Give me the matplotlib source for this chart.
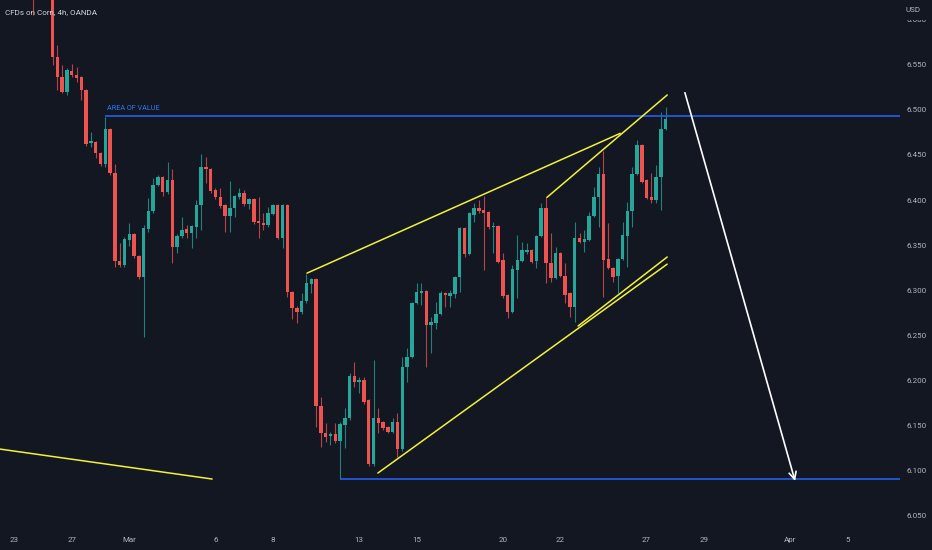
import numpy as np
import matplotlib
matplotlib.use('Agg')
import matplotlib.pyplot as plt

# 4h candles of CFDs on Corn (OANDA), index -4 .. 128, 6 candles per trading day
opens = [
    6.665, 6.640, 6.655, 6.650, 6.648, 6.559, 6.536, 6.520, 6.543, 6.539,
    6.536, 6.522, 6.463, 6.464, 6.452, 6.440, 6.479, 6.430, 6.333, 6.328,
    6.356, 6.362, 6.338, 6.315, 6.368, 6.388, 6.417, 6.426, 6.409, 6.422,
    6.348, 6.360, 6.368, 6.364, 6.370, 6.395, 6.437, 6.435, 6.411, 6.403,
    6.395, 6.382, 6.391, 6.403, 6.408, 6.396, 6.401, 6.377, 6.375, 6.372,
    6.385, 6.395, 6.358, 6.395, 6.298, 6.280, 6.276, 6.288, 6.307, 6.313,
    6.172, 6.142, 6.138, 6.141, 6.133, 6.151, 6.158, 6.205, 6.198, 6.201,
    6.178, 6.107, 6.158, 6.154, 6.148, 6.143, 6.154, 6.124, 6.215, 6.226,
    6.286, 6.297, 6.299, 6.262, 6.264, 6.274, 6.297, 6.294, 6.296, 6.315,
    6.369, 6.340, 6.384, 6.391, 6.389, 6.387, 6.370, 6.371, 6.334, 6.295,
    6.276, 6.323, 6.333, 6.343, 6.345, 6.333, 6.360, 6.391, 6.330, 6.314,
    6.341, 6.316, 6.297, 6.282, 6.358, 6.354, 6.356, 6.382, 6.403, 6.429,
    6.335, 6.325, 6.316, 6.335, 6.360, 6.388, 6.429, 6.461, 6.422, 6.403,
    6.400, 6.426, 6.479,
]
highs = [
    6.672, 6.662, 6.668, 6.660, 6.652, 6.572, 6.550, 6.546, 6.551, 6.548,
    6.538, 6.523, 6.476, 6.466, 6.453, 6.492, 6.480, 6.440, 6.352, 6.359,
    6.375, 6.364, 6.339, 6.372, 6.402, 6.425, 6.428, 6.427, 6.442, 6.435,
    6.362, 6.381, 6.372, 6.372, 6.400, 6.451, 6.448, 6.436, 6.413, 6.413,
    6.396, 6.421, 6.406, 6.413, 6.411, 6.402, 6.402, 6.403, 6.386, 6.392,
    6.396, 6.396, 6.396, 6.396, 6.299, 6.283, 6.297, 6.318, 6.314, 6.314,
    6.182, 6.153, 6.143, 6.153, 6.154, 6.170, 6.208, 6.221, 6.204, 6.204,
    6.180, 6.223, 6.170, 6.155, 6.150, 6.158, 6.164, 6.226, 6.236, 6.287,
    6.308, 6.308, 6.300, 6.270, 6.287, 6.299, 6.298, 6.300, 6.316, 6.370,
    6.370, 6.387, 6.397, 6.400, 6.405, 6.388, 6.376, 6.372, 6.341, 6.296,
    6.328, 6.361, 6.354, 6.352, 6.346, 6.361, 6.397, 6.403, 6.364, 6.348,
    6.343, 6.330, 6.298, 6.376, 6.364, 6.367, 6.387, 6.415, 6.437, 6.454,
    6.375, 6.326, 6.336, 6.376, 6.398, 6.437, 6.467, 6.462, 6.423, 6.430,
    6.439, 6.498, 6.503,
]
lows = [
    6.605, 6.630, 6.636, 6.632, 6.550, 6.522, 6.519, 6.517, 6.536, 6.531,
    6.511, 6.460, 6.459, 6.447, 6.438, 6.437, 6.428, 6.326, 6.326, 6.326,
    6.349, 6.336, 6.313, 6.248, 6.365, 6.386, 6.416, 6.405, 6.407, 6.330,
    6.341, 6.358, 6.358, 6.347, 6.358, 6.367, 6.419, 6.408, 6.401, 6.391,
    6.365, 6.365, 6.381, 6.401, 6.393, 6.390, 6.374, 6.358, 6.367, 6.370,
    6.384, 6.357, 6.347, 6.293, 6.268, 6.264, 6.274, 6.286, 6.297, 6.148,
    6.126, 6.132, 6.128, 6.131, 6.091, 6.125, 6.156, 6.193, 6.186, 6.174,
    6.105, 6.105, 6.142, 6.145, 6.142, 6.142, 6.115, 6.122, 6.198, 6.225,
    6.285, 6.284, 6.215, 6.231, 6.257, 6.273, 6.282, 6.282, 6.292, 6.298,
    6.337, 6.339, 6.376, 6.386, 6.323, 6.368, 6.341, 6.330, 6.292, 6.269,
    6.275, 6.292, 6.331, 6.340, 6.330, 6.325, 6.359, 6.308, 6.309, 6.313,
    6.315, 6.286, 6.270, 6.265, 6.352, 6.343, 6.355, 6.381, 6.370, 6.293,
    6.324, 6.309, 6.297, 6.334, 6.326, 6.370, 6.428, 6.419, 6.401, 6.397,
    6.397, 6.389, 6.478,
]
closes = [
    6.640, 6.655, 6.650, 6.648, 6.559, 6.536, 6.520, 6.544, 6.539, 6.535,
    6.522, 6.462, 6.466, 6.452, 6.440, 6.479, 6.430, 6.333, 6.328, 6.357,
    6.362, 6.338, 6.315, 6.369, 6.388, 6.417, 6.426, 6.409, 6.422, 6.348,
    6.360, 6.367, 6.364, 6.371, 6.395, 6.437, 6.435, 6.410, 6.403, 6.393,
    6.382, 6.391, 6.405, 6.408, 6.396, 6.401, 6.376, 6.375, 6.372, 6.386,
    6.395, 6.358, 6.395, 6.298, 6.280, 6.276, 6.288, 6.308, 6.313, 6.172,
    6.142, 6.137, 6.141, 6.133, 6.152, 6.158, 6.205, 6.198, 6.201, 6.176,
    6.107, 6.158, 6.153, 6.147, 6.143, 6.154, 6.124, 6.215, 6.226, 6.286,
    6.298, 6.299, 6.262, 6.265, 6.274, 6.297, 6.295, 6.297, 6.315, 6.369,
    6.340, 6.386, 6.391, 6.388, 6.386, 6.370, 6.371, 6.331, 6.294, 6.276,
    6.324, 6.334, 6.345, 6.345, 6.331, 6.360, 6.391, 6.330, 6.314, 6.341,
    6.316, 6.295, 6.282, 6.358, 6.354, 6.357, 6.382, 6.403, 6.429, 6.334,
    6.325, 6.315, 6.335, 6.361, 6.388, 6.429, 6.461, 6.420, 6.402, 6.400,
    6.426, 6.479, 6.490,
]
first_index = -4

# time axis: candle index of each day label
day_ticks = [-8, 4, 16, 34, 46, 64, 76, 94, 106, 124, 136, 154, 166]
day_labels = ['23', '27', 'Mar', '6', '8', '13', '15', '20', '22', '27', '29', 'Apr', '5']
price_ticks = [6.05, 6.10, 6.15, 6.20, 6.25, 6.30, 6.35, 6.40, 6.45, 6.50, 6.55, 6.60]

# drawings (candle index, price)
area_of_value = (11, 6.4936)
target_level = (60, 6.0908)
yellow_lines = [
    ((-11.0, 6.124), (33.3, 6.0908)),
    ((53.1, 6.319), (118.5, 6.474)),
    ((103.2, 6.403), (128.3, 6.5165)),
    ((67.9, 6.0974), (128.3, 6.329)),
    ((109.7, 6.2604), (128.3, 6.3369)),
]
arrow_start = (132.0, 6.519)
arrow_end = (155.0, 6.0886)

bg = '#131722'
up_col = '#26a69a'
down_col = '#ef5350'
text_col = '#b2b5be'
blue = '#2962ff'

plt.rcParams['font.family'] = ['Roboto', 'DejaVu Sans']

fig = plt.figure(figsize=(9.32, 5.5), dpi=100, facecolor=bg)
ax = fig.add_axes([0, 22 / 550, 900 / 932, 528 / 550])
ax.set_facecolor(bg)

o = np.array(opens)
h = np.array(highs)
l = np.array(lows)
c = np.array(closes)
x = np.arange(first_index, first_index + len(o))
colors = np.where(c >= o, up_col, down_col)

ax.vlines(x, l, h, colors=colors, linewidth=0.8, alpha=0.75, zorder=2)
body_low = np.minimum(o, c)
body_h = np.maximum(np.abs(c - o), 0.0012)
ax.bar(x, body_h, bottom=body_low, width=0.72, color=colors, linewidth=0, zorder=3)

xmax = 176.9
ax.hlines(area_of_value[1], area_of_value[0], xmax, color=blue, linewidth=1.1, zorder=4)
ax.hlines(target_level[1], target_level[0], xmax, color=blue, linewidth=1.1, zorder=4)
ax.text(area_of_value[0] + 0.4, area_of_value[1] + 0.004, 'AREA OF VALUE',
        color='#3179f5', fontsize=5.2, va='bottom', ha='left', zorder=5)

for (x0, y0), (x1, y1) in yellow_lines:
    ax.plot([x0, x1], [y0, y1], color='#f2f23a', linewidth=1.1, zorder=5,
            solid_capstyle='round')

ax.annotate('', xy=arrow_end, xytext=arrow_start,
            arrowprops=dict(arrowstyle='->', color='white', lw=1.2,
                            mutation_scale=13, shrinkA=0, shrinkB=0),
            zorder=6)

ax.set_xlim(-10.98, xmax)
ax.set_ylim(6.0365, 6.6218)

ax.yaxis.tick_right()
ax.set_yticks(price_ticks)
ax.set_yticklabels(['{:.3f}'.format(p) for p in price_ticks])
ax.set_xticks(day_ticks)
ax.set_xticklabels(day_labels)
ax.tick_params(axis='y', length=0, pad=4.8, labelsize=5.8, colors=text_col)
ax.tick_params(axis='x', length=0, pad=6.5, labelsize=5.8, colors=text_col)
for s in ax.spines.values():
    s.set_visible(False)

fig.text(5 / 932, 1 - 12 / 550, 'CFDs on Corn, 4h, OANDA', color='#d1d4dc',
         fontsize=5.8, va='center', ha='left')
# currency label sits over the top price label, hiding most of it
fig.text(906 / 932, 1 - 10 / 550, 'USD', color=text_col, fontsize=5.8,
         va='center', ha='left', zorder=10,
         bbox=dict(boxstyle='square,pad=0.9', facecolor=bg, edgecolor='none'))

fig.savefig('out.png', dpi=100, facecolor=bg)
